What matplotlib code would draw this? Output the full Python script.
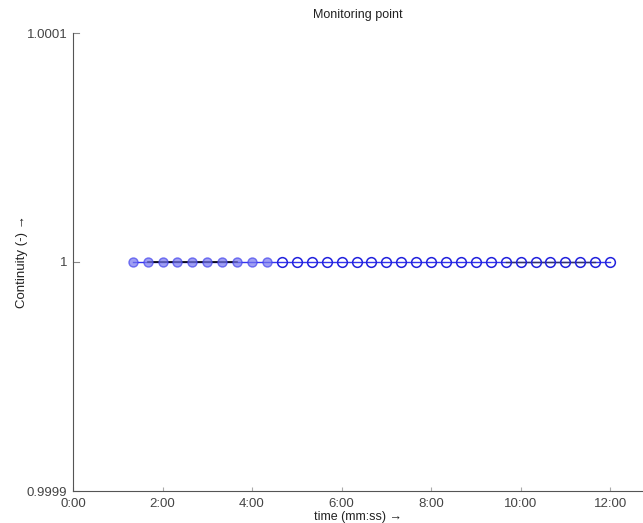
import numpy as np
import matplotlib
matplotlib.use('Agg')
import matplotlib.pyplot as plt
from matplotlib.ticker import FuncFormatter

plt.rcParams['font.family'] = ['Liberation Sans', 'DejaVu Sans']

# time in seconds, continuity values
t_filled = [80, 100, 120, 140, 160, 180, 200, 220, 240, 260]
c_filled = [1.0] * len(t_filled)
t_open = [280, 300, 320, 340, 360, 380, 400, 420, 440, 460, 480, 500,
          520, 540, 560, 580, 600, 620, 640, 660, 680, 700, 720]
c_open = [1.0] * len(t_open)
y_ticks = [0.9999, 1.0, 1.0001]
y_labels = ['0.9999', '1', '1.0001']
x_ticks = [0, 120, 240, 360, 480, 600, 720]

fig = plt.figure(figsize=(6.43, 5.23), dpi=100)
ax = fig.add_axes([73/643, 32/523, 570/643, 458/523])

t_all = t_filled + t_open
c_all = c_filled + c_open
ax.plot(t_all, c_all, color='#3333ee', linewidth=1.0, zorder=2)
ax.plot(t_filled[1:8], c_filled[1:8], color='black', linewidth=1.2, zorder=3)
ax.plot(t_open[-8:-1], c_open[-8:-1], color='#333366', linewidth=1.0, zorder=3)
ax.plot(t_filled, c_filled, 'o', markersize=6.5, markerfacecolor='#7777ee',
        markeredgecolor='#4444ee', markeredgewidth=1.0, alpha=0.7, zorder=4)
ax.plot(t_open, c_open, 'o', markersize=7, markerfacecolor='none',
        markeredgecolor='#2222dd', markeredgewidth=1.1, zorder=4)

ax.set_xlim(0, 764)
ax.set_ylim(0.9999, 1.0001)
ax.set_xticks(x_ticks)
ax.xaxis.set_major_formatter(FuncFormatter(lambda v, p: '%d:%02d' % (v // 60, v % 60)))
ax.set_yticks(y_ticks)
ax.set_yticklabels(y_labels)

for s in ['top', 'right']:
    ax.spines[s].set_visible(False)
for s in ['left', 'bottom']:
    ax.spines[s].set_color('#555555')
    ax.spines[s].set_linewidth(0.8)
ax.tick_params(axis='x', direction='in', length=3, color='#aaaaaa', labelsize=9.5,
               labelcolor='#444444', pad=5)
ax.tick_params(axis='y', direction='out', length=0, labelsize=9.5,
               labelcolor='#444444', pad=4)
for y in y_ticks:
    ax.plot([0, 8], [y, y], color='#888888', linewidth=0.8, clip_on=False)

ax.set_title('Monitoring point', fontsize=9, color='#222222', pad=11)
ax.set_xlabel('time (mm:ss) \u2192', fontsize=9, color='#222222', labelpad=1)
ax.set_ylabel('Continuity (-) \u2192', fontsize=9.5, color='#222222', labelpad=-1)

fig.savefig('out.png', dpi=100)
